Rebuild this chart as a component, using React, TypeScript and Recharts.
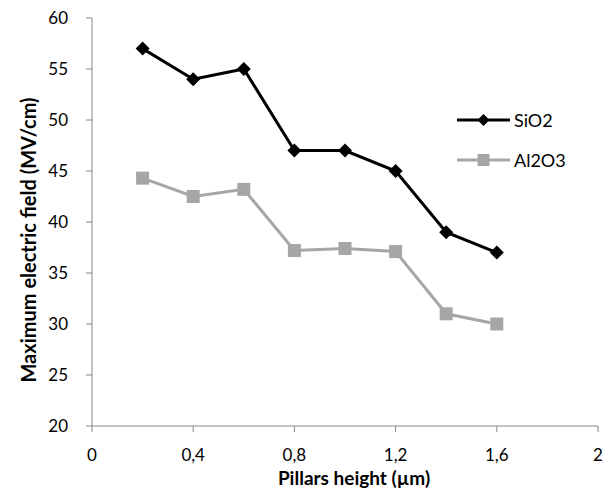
import React from 'react';
import { LineChart, Line, XAxis, YAxis } from 'recharts';

const heights = [0.2, 0.4, 0.6, 0.8, 1.0, 1.2, 1.4, 1.6];
const sio2 = [57, 54, 55, 47, 47, 45, 39, 37];
const al2o3 = [44.3, 42.5, 43.2, 37.2, 37.4, 37.1, 31, 30];
const xTicks = [0, 0.4, 0.8, 1.2, 1.6, 2];
const yTicks = [20, 25, 30, 35, 40, 45, 50, 55, 60];

const data = heights.map((h, i) => ({ h, SiO2: sio2[i], Al2O3: al2o3[i] }));

const FONT = 'Lato, "Noto Sans", sans-serif';
const AXIS = '#868686';
const GREY = '#A6A6A6';

const Diamond = (props: any) => {
  const { cx, cy } = props;
  if (cx == null || cy == null) return null;
  const r = 7;
  return <polygon points={`${cx},${cy - r} ${cx + r},${cy} ${cx},${cy + r} ${cx - r},${cy}`} fill="#000" />;
};

const Square = (props: any) => {
  const { cx, cy } = props;
  if (cx == null || cy == null) return null;
  const s = 13;
  return <rect x={cx - s / 2} y={cy - s / 2} width={s} height={s} fill={GREY} />;
};

const YLabel = () => (
  <text x={28} y={240} transform="rotate(-90, 28, 240)" textAnchor="middle" dominantBaseline="central"
    fontFamily={FONT} fontWeight="bold" fontSize={20} fill="#000">Maximum electric field (MV/cm)</text>
);

const XLabel = () => (
  <text x={354} y={477} textAnchor="middle" dominantBaseline="central"
    fontFamily={FONT} fontWeight="bold" fontSize={19} fill="#000">Pillars height (µm)</text>
);

const LegendBox = () => (
  <svg width={140} height={70} style={{ position: 'absolute', left: 457, top: 108, overflow: 'visible' }}>
    <line x1={0} y1={12} x2={53} y2={12} stroke="#000" strokeWidth={3} />
    <polygon points="26.5,6 32.5,12 26.5,18 20.5,12" fill="#000" />
    <text x={57} y={12} dominantBaseline="central" fontFamily={FONT} fontSize={18} fill="#000">SiO2</text>
    <line x1={0} y1={52} x2={53} y2={52} stroke={GREY} strokeWidth={3} />
    <rect x={20.5} y={46} width={12} height={12} fill={GREY} />
    <text x={57} y={52} dominantBaseline="central" fontFamily={FONT} fontSize={18} fill="#000">Al2O3</text>
  </svg>
);

export default function App() {
  return (
    <div style={{ position: 'absolute', left: 0, top: 0, width: 605, height: 491, background: '#fff' }}>
      <LineChart width={605} height={491} data={data} margin={{ top: 18, right: 7, bottom: 25, left: 0 }}>
        <XAxis dataKey="h" type="number" domain={[0, 2]} ticks={xTicks} height={40}
          tickFormatter={(v: number) => String(v).replace('.', ',')}
          stroke={AXIS} tickSize={6} tickMargin={17}
          tick={{ fill: '#000', fontFamily: FONT, fontSize: 17 }}
          label={<XLabel />} />
        <YAxis type="number" domain={[20, 60]} ticks={yTicks} width={92}
          stroke={AXIS} tickSize={6} tickMargin={18}
          tick={{ fill: '#000', fontFamily: FONT, fontSize: 17 }}
          label={<YLabel />} />
        <Line dataKey="SiO2" stroke="#000" strokeWidth={3} dot={<Diamond />} activeDot={false} isAnimationActive={false} />
        <Line dataKey="Al2O3" stroke={GREY} strokeWidth={3} dot={<Square />} activeDot={false} isAnimationActive={false} />
      </LineChart>
      <LegendBox />
    </div>
  );
}
